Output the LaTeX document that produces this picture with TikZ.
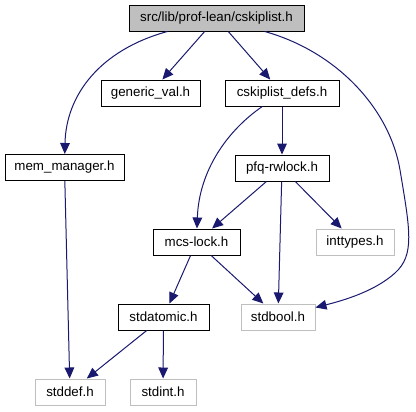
\documentclass[tikz,border=0pt]{standalone}
\usepackage{fontspec}
\setmainfont{Liberation Sans}
\usetikzlibrary{arrows.meta}
\definecolor{edgeblue}{RGB}{25,25,112}
\definecolor{nodocgray}{RGB}{191,191,191}

\begin{document}
\begin{tikzpicture}[x=0.75pt, y=-0.75pt,
    file/.style={rectangle, draw=black, line width=0.75pt, minimum height=19.5pt, inner xsep=2pt, text centered, font=\fontsize{10pt}{12pt}\selectfont},
    sysfile/.style={file, draw=nodocgray},
    arrow/.style={-{Triangle[length=8.25pt, width=7.25pt]}, draw=edgeblue, line width=0.75pt}
]
\useasboundingbox (0,0) rectangle (416,411);

\node[file, fill=nodocgray, minimum width=131.25pt] (cskiplist) at (216.5,18) {src/lib/prof-lean/cskiplist.h};
\node[file, minimum width=74.25pt] (genericval) at (150.5,93) {generic\_val.h};
\node[file, minimum width=85.5pt] (defs) at (282,93) {cskiplist\_defs.h};
\node[file, minimum width=89.25pt] (memmgr) at (64.5,167.5) {mem\_manager.h};
\node[file, minimum width=70.5pt] (pfq) at (282,168) {pfq-rwlock.h};
\node[file, minimum width=65.25pt] (mcs) at (196.5,242) {mcs-lock.h};
\node[sysfile, minimum width=58.5pt] (inttypes) at (355,242) {inttypes.h};
\node[file, minimum width=68.25pt] (stdatomic) at (163.5,317) {stdatomic.h};
\node[sysfile, minimum width=55.5pt] (stdbool) at (278,317) {stdbool.h};
\node[sysfile, minimum width=52.5pt] (stddef) at (70,392) {stddef.h};
\node[sysfile, minimum width=49.5pt] (stdint) at (163,392) {stdint.h};

\draw[arrow] (cskiplist) .. controls (100,50) and (66,95) .. (memmgr);
\draw[arrow] (cskiplist) -- (genericval);
\draw[arrow] (cskiplist) -- (defs);
\draw[arrow] (cskiplist) .. controls (338,52) and (390,110) .. (400,170)
    .. controls (410,230) and (415,255) .. (395,273)
    .. controls (375,291) and (345,300) .. (stdbool);
\draw[arrow] (defs) .. controls (228,130) and (199,170) .. (mcs);
\draw[arrow] (defs) -- (pfq);
\draw[arrow] (pfq) -- (mcs);
\draw[arrow] (pfq) -- (inttypes);
\draw[arrow] (pfq) -- (stdbool);
\draw[arrow] (mcs) -- (stdatomic);
\draw[arrow] (mcs) -- (stdbool);
\draw[arrow] (memmgr) -- (stddef);
\draw[arrow] (stdatomic) -- (stddef);
\draw[arrow] (stdatomic) -- (stdint);
\end{tikzpicture}
\end{document}
